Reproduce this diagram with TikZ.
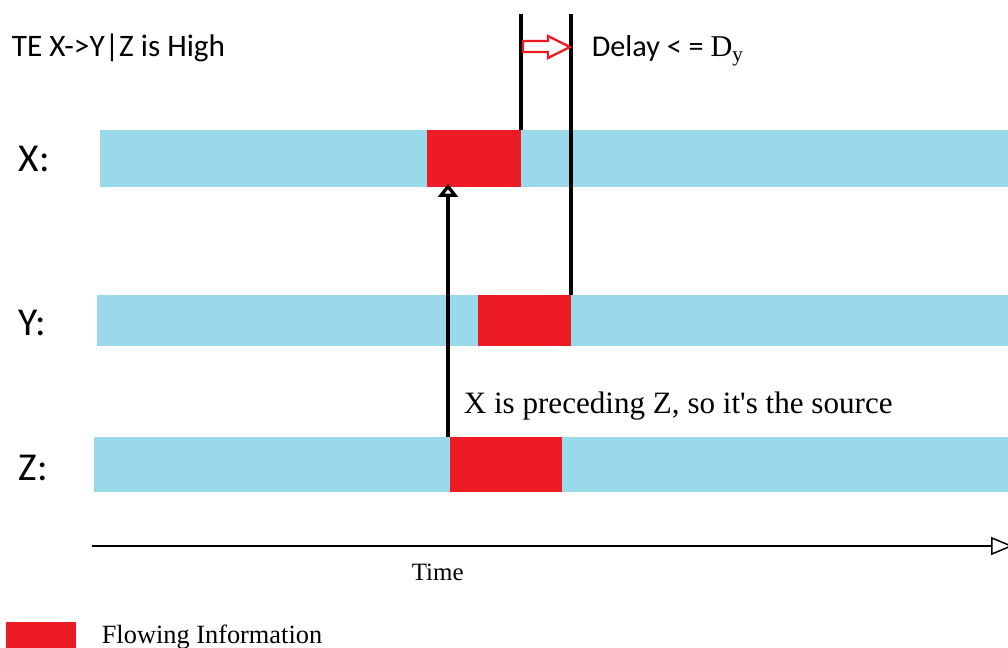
\documentclass[tikz,border=0pt]{standalone}
\usepackage{fontspec}
\setmainfont{Liberation Serif}[Ligatures=TeXOff]
\newfontfamily\calfont{Carlito}
\usetikzlibrary{arrows.meta}
\definecolor{tlblue}{RGB}{153,217,234}
\definecolor{tlred}{RGB}{237,28,36}

\begin{document}
\begin{tikzpicture}[x=0.02cm,y=-0.02cm,line width=2.1pt,
    flow/.style={fill=tlred,draw=none,inner sep=0pt,outer sep=0pt,anchor=north west},
    rowlabel/.style={anchor=base west,inner sep=0pt,font=\calfont\fontsize{22.5}{26}\selectfont},
    note/.style={anchor=base west,inner sep=0pt}]
  \useasboundingbox (0,0) rectangle (1008,648);
  % signal bars
  \fill[tlblue] (100,130) rectangle (1008,187);
  \fill[tlblue] (97,295) rectangle (1008,346);
  \fill[tlblue] (94,437) rectangle (1008,492);
  \node[flow,minimum width=1.88cm,minimum height=1.14cm] (xred) at (427,130) {};
  \node[flow,minimum width=1.86cm,minimum height=1.02cm] (yred) at (478,295) {};
  \node[flow,minimum width=2.24cm,minimum height=1.10cm] (zred) at (450,437) {};
  \node[rowlabel] (xlab) at (17,172) {X:};
  \node[rowlabel] (ylab) at (17,336) {Y:};
  \node[rowlabel] (zlab) at (17,480) {Z:};
  % delay markers
  \coordinate (xtop) at (xred.north east |- 0,14);
  \coordinate (ytop) at (yred.north east |- 0,14);
  \draw (xred.north east) -- (xtop);
  \draw (yred.north east) -- (ytop);
  \draw[tlred,line width=1.3pt] (523,41) -- (548,41) -- (548,36) -- (570,47)
    -- (548,58) -- (548,52) -- (523,52) -- cycle;
  \node[note,font=\calfont\fontsize{17.8}{20}\selectfont] (title) at (10,57) {TE X->Y|Z is High};
  \node[note,font=\calfont\fontsize{17.2}{20}\selectfont] (delay) at (590,57)
    {Delay < = {\rmfamily D\textsubscript{y}}};
  % source arrow
  \coordinate (src) at ([xshift=-0.04cm]zred.north west);
  \coordinate (dst) at (src |- 0,184);
  \draw[-{Triangle[open,length=0.26cm,width=0.4cm,line width=2pt]}] (src) -- (dst);
  \node[note,font=\fontsize{17.7}{20}\selectfont] (srcnote) at (462,414)
    {X is preceding Z, so it's the source};
  % time axis
  \coordinate (t0) at (92,546);
  \coordinate (t1) at (1013,546);
  \draw[line width=0.85pt,-{Triangle[open,length=0.44cm,width=0.36cm]}] (t0) -- (t1);
  \node[note,font=\fontsize{14.2}{16}\selectfont] (time) at (410,581) {Time};
  % legend
  \fill[tlred] (6,622) rectangle (76,648);
  \node[note,font=\fontsize{15}{18}\selectfont] (legend) at (100,643) {Flowing Information};
\end{tikzpicture}
\end{document}
